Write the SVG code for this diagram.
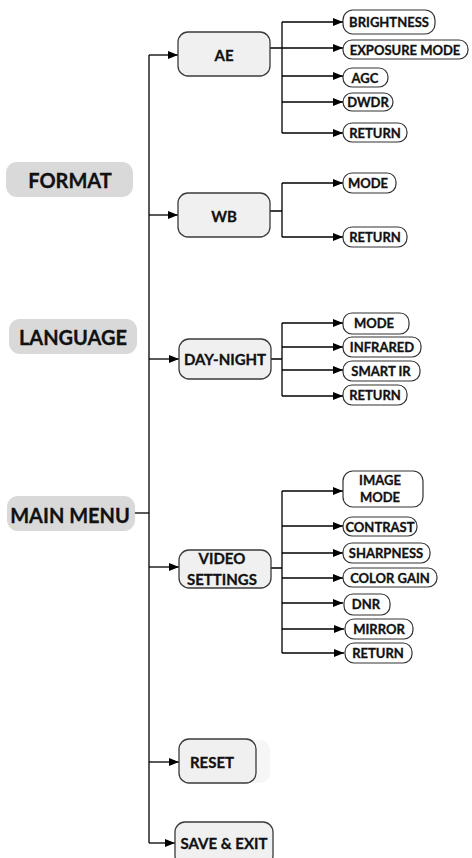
<svg xmlns="http://www.w3.org/2000/svg" width="472" height="858" viewBox="0 0 472 858">
<defs>
<marker id="ah" markerWidth="10" markerHeight="8" refX="10" refY="4" orient="auto" markerUnits="userSpaceOnUse">
<path d="M0,0 L10,4 L0,8 Z" fill="#000"/>
</marker>
<style>
.top{fill:#d9d9d9;stroke:none}
.main{fill:#f0f0f0;stroke:#3a3a3a;stroke-width:1.3}
.pill{fill:#fff;stroke:#333;stroke-width:1.2}
.t{font-family:Lato,"Liberation Sans",sans-serif;font-weight:bold;fill:#111;stroke:#111;stroke-width:0.3;text-anchor:middle;dominant-baseline:central}
.big{font-size:20px}
.mid{font-size:15px}
.sm{font-size:13px}
.ln{fill:none;stroke:#000;stroke-width:1.3}
.ar{fill:none;stroke:#000;stroke-width:1.3;marker-end:url(#ah)}
</style>
</defs>
<rect width="472" height="858" fill="#fff"/>

<g id="connectors">
<path class="ln" d="M149,55 V843"/>
<path class="ln" d="M135,513 H149"/>
<path class="ar" d="M149,55 H178"/>
<path class="ar" d="M149,215 H178"/>
<path class="ar" d="M149,359 H179"/>
<path class="ar" d="M149,567 H179"/>
<path class="ar" d="M149,762 H179"/>
<path class="ar" d="M149,843 H175"/>
<path class="ln" d="M270,48 H282 M282,22 V133"/>
<path class="ar" d="M282,22 H343"/>
<path class="ar" d="M282,48 H343"/>
<path class="ar" d="M282,76 H343"/>
<path class="ar" d="M282,102 H343"/>
<path class="ar" d="M282,133 H343"/>
<path class="ln" d="M270,211 H282 M282,183 V237"/>
<path class="ar" d="M282,183 H343"/>
<path class="ar" d="M282,237 H343"/>
<path class="ln" d="M271,359 H282 M282,323 V396"/>
<path class="ar" d="M282,323 H343"/>
<path class="ar" d="M282,347 H343"/>
<path class="ar" d="M282,370 H343"/>
<path class="ar" d="M282,396 H343"/>
<path class="ln" d="M271,568 H282 M282,491 V653"/>
<path class="ar" d="M282,491 H343"/>
<path class="ar" d="M282,526 H343"/>
<path class="ar" d="M282,553 H343"/>
<path class="ar" d="M282,578 H343"/>
<path class="ar" d="M282,603 H343"/>
<path class="ar" d="M282,629 H344"/>
<path class="ar" d="M282,653 H344"/>
</g>

<g id="format"><rect class="top" x="6" y="162" width="127" height="35" rx="11"/><text class="t big" x="70" y="180">FORMAT</text></g>
<g id="language"><rect class="top" x="9" y="319" width="128" height="35" rx="11"/><text class="t big" x="73" y="337">LANGUAGE</text></g>
<g id="main-menu"><rect class="top" x="7" y="496" width="128" height="35" rx="11"/><text class="t big" x="70" y="515">MAIN MENU</text></g>

<g id="ae"><rect class="main" x="178" y="32" width="92" height="44" rx="10"/><text class="t mid" x="224" y="55">AE</text></g>
<g id="wb"><rect class="main" x="178" y="193" width="92" height="44" rx="10"/><text class="t mid" x="224" y="216">WB</text></g>
<g id="day-night"><rect class="main" x="179" y="339" width="92" height="40" rx="10"/><text class="t mid" x="225" y="359">DAY-NIGHT</text></g>
<g id="video-settings"><rect class="main" x="179" y="550" width="92" height="38" rx="10"/><text class="t mid" x="222" y="558">VIDEO</text><text class="t mid" x="222" y="579">SETTINGS</text></g>
<g id="reset"><rect x="190" y="740" width="80" height="43" rx="10" fill="#f6f6f6"/><rect class="main" x="179" y="739" width="77" height="44" rx="10"/><text class="t mid" x="212" y="762">RESET</text></g>
<g id="save-exit"><rect class="main" x="175" y="822" width="98" height="44" rx="10"/><text class="t mid" x="224" y="843">SAVE &amp; EXIT</text></g>

<g id="brightness"><rect class="pill" x="343" y="10" width="92" height="24" rx="10"/><text class="t sm" x="389" y="22">BRIGHTNESS</text></g>
<g id="exposure-mode"><rect class="pill" x="343" y="40" width="125" height="19" rx="9"/><text class="t sm" x="405" y="49.5">EXPOSURE MODE</text></g>
<g id="agc"><rect class="pill" x="343" y="68" width="45" height="19" rx="9"/><text class="t sm" x="365" y="77.5">AGC</text></g>
<g id="dwdr"><rect class="pill" x="343" y="93" width="50" height="18" rx="9"/><text class="t sm" x="368" y="102">DWDR</text></g>
<g id="ae-return"><rect class="pill" x="343" y="123" width="64" height="19" rx="9"/><text class="t sm" x="375" y="132.5">RETURN</text></g>

<g id="wb-mode"><rect class="pill" x="343" y="173" width="53" height="20" rx="9"/><text class="t sm" x="368" y="183">MODE</text></g>
<g id="wb-return"><rect class="pill" x="343" y="227" width="64" height="20" rx="9"/><text class="t sm" x="375" y="237">RETURN</text></g>

<g id="dn-mode"><rect class="pill" x="343" y="313" width="66" height="21" rx="9"/><text class="t sm" x="374" y="323">MODE</text></g>
<g id="infrared"><rect class="pill" x="343" y="337" width="78" height="20" rx="9"/><text class="t sm" x="382" y="347">INFRARED</text></g>
<g id="smart-ir"><rect class="pill" x="343" y="361" width="77" height="20" rx="9"/><text class="t sm" x="381" y="371">SMART IR</text></g>
<g id="dn-return"><rect class="pill" x="343" y="385" width="64" height="20" rx="9"/><text class="t sm" x="375" y="395">RETURN</text></g>

<g id="image-mode"><rect class="pill" x="343" y="471" width="80" height="36" rx="10"/><text class="t sm" x="380" y="480">IMAGE</text><text class="t sm" x="380" y="497">MODE</text></g>
<g id="contrast"><rect class="pill" x="343" y="517" width="74" height="19" rx="9"/><text class="t sm" x="380" y="526.5">CONTRAST</text></g>
<g id="sharpness"><rect class="pill" x="343" y="543" width="87" height="20" rx="9"/><text class="t sm" x="386" y="553">SHARPNESS</text></g>
<g id="color-gain"><rect class="pill" x="343" y="568" width="94" height="19" rx="9"/><text class="t sm" x="390" y="577.5">COLOR GAIN</text></g>
<g id="dnr"><rect class="pill" x="344" y="594" width="46" height="21" rx="9"/><text class="t sm" x="366" y="604">DNR</text></g>
<g id="mirror"><rect class="pill" x="345" y="619" width="68" height="20" rx="9"/><text class="t sm" x="379" y="629">MIRROR</text></g>
<g id="vs-return"><rect class="pill" x="345" y="643" width="67" height="20" rx="9"/><text class="t sm" x="378" y="653">RETURN</text></g>
</svg>
